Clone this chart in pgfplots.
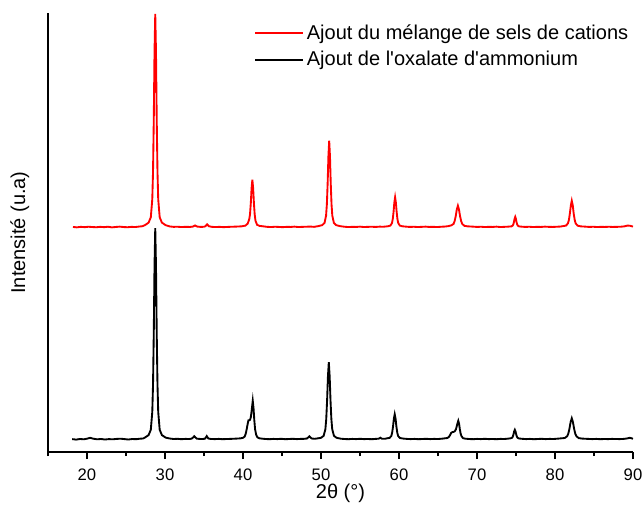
\documentclass[border=0pt]{standalone}
\usepackage{fontspec}
\setmainfont{Liberation Sans}
\usepackage{pgfplots}
\pgfplotsset{compat=1.18}
\usetikzlibrary{calc}
\begin{document}
\begin{tikzpicture}
\begin{axis}[
 name=ax,
 scale only axis,
 width=438.75pt, height=329.25pt,
 xmin=15, xmax=90, ymin=-12.7, ymax=426,
 axis lines*=left,
 axis line style={line width=1pt},
 ytick=\empty,
 xtick={20,30,...,90},
 minor xtick={15,25,...,85},
 tick align=outside,
 major tick length=5.25pt, minor tick length=3pt,
 tick style={line width=1pt, black},
 /pgf/number format/assume math mode=true,
 ticklabel style={font=\fontsize{12.5}{14}\selectfont},
 xticklabel style={inner sep=0pt, yshift=-7.4pt},
 xlabel={2θ (°)},
 ylabel={Intensité (u.a)},
 label style={font=\fontsize{15}{17}\selectfont},
 xlabel style={at={(axis description cs:0.5,-0.093)}, anchor=center, inner sep=0pt},
 ylabel style={at={(axis description cs:-0.048,0.5)}, anchor=center},
 legend style={draw=none, fill=none, at={(axis description cs:0.352,0.98)}, anchor=north west,
   font=\fontsize{15}{17}\selectfont, inner sep=0pt, row sep=3.5pt, nodes={inner sep=2pt}},
 legend cell align=left,
 legend image code/.code={\draw[#1, line width=1.5pt] (0pt,0pt) -- (36pt,0pt);},
]
\addplot[red, line width=1.4pt] coordinates {
(18.2,212.2) (18.7,211.8) (19.2,212.3) (19.7,212.0) (20.2,212.4) (20.7,212.1) (21.2,211.9) (21.7,212.3) (22.2,212.0) (22.7,212.4) (23.2,211.8) (23.7,212.2) (24.2,212.5) (24.7,212.1) (25.2,211.9) (25.7,212.3) (26.2,212.1) (26.7,212.6) (27.1,212.9)
(27.42,214.0) (27.895,216.5) (28.18,221.8) (28.37,239.9) (28.465,267.6) (28.56,318.7) (28.655,386.9) (28.75,425) (28.845,386.9) (28.94,318.7) (29.035,267.6) (29.13,239.9) (29.32,221.8) (29.605,216.5) (30.08,214.0)
(30.6,212.7) (31.1,212.3) (31.6,212.4) (32.1,212.1) (32.6,212.3) (33.2,212.2)
(33.6,212.6) (33.85,213.7) (34.1,212.6) (34.6,212.2) (35.0,212.4)
(35.2,213.0) (35.3,214.0) (35.4,214.8) (35.5,214.0) (35.6,213.0)
(36.0,212.3) (36.5,212.1) (37.0,212.3) (37.5,212.0) (38.0,212.2) (38.5,212.4) (39.0,212.5)
(39.8,212.8) (40.3,213.5) (40.6,215.5) (40.8,220.0) (40.9,225.0) (41.0,235.8) (41.1,250.8) (41.2,259.3) (41.3,250.8) (41.4,235.8) (41.5,224.5) (41.6,218.4) (41.8,214.4) (42.1,213.3) (42.6,212.8)
(43.1,212.3) (43.6,212.1) (44.1,212.4) (44.6,212.2) (45.1,212.0) (45.6,212.3) (46.1,212.2) (46.6,212.5) (47.1,212.1) (47.6,212.3) (48.1,212.4) (48.6,212.6) (49.1,212.3)
(49.65,213.0) (50.15,214.0) (50.45,216.2) (50.65,223.5) (50.75,234.7) (50.85,255.3) (50.95,282.8) (51.05,298.3) (51.15,282.8) (51.25,255.3) (51.35,234.7) (51.45,223.5) (51.65,216.2) (51.95,214.0) (52.45,213.0)
(53.0,212.4) (53.5,212.1) (54.0,212.3) (54.5,212.2) (55.0,212.5) (55.5,212.1) (56.0,212.3) (56.5,212.4) (57.0,212.2) (57.5,212.5) (58.0,212.4)
(58.6,212.9) (58.9,213.6) (59.1,216.1) (59.2,220.0) (59.3,227.1) (59.4,236.5) (59.5,241.8) (59.6,236.5) (59.7,227.1) (59.8,220.0) (59.9,216.1) (60.1,213.6) (60.4,212.9) (60.9,212.5)
(61.4,212.2) (61.9,212.4) (62.4,212.1) (62.9,212.3) (63.4,212.5) (63.9,212.2) (64.4,212.3) (64.9,212.1) (65.4,212.4) (65.9,212.6) (66.3,213.0)
(66.71,213.8) (66.99,215.2) (67.13,218.0) (67.27,222.9) (67.41,229.6) (67.55,233.4) (67.69,229.6) (67.83,222.9) (67.97,218.0) (68.11,215.2) (68.39,213.3) (68.81,212.8) (69.51,212.5)
(70.0,212.2) (70.5,212.4) (71.0,212.1) (71.5,212.3) (72.0,212.2) (72.5,212.5) (73.0,212.1) (73.5,212.3) (74.0,212.5)
(74.42,212.8) (74.58,213.6) (74.66,214.9) (74.74,217.3) (74.82,220.5) (74.9,222.3) (74.98,220.5) (75.06,217.3) (75.14,214.9) (75.22,213.6) (75.38,212.8) (75.7,212.5)
(76.2,212.2) (76.7,212.4) (77.2,212.1) (77.7,212.3) (78.2,212.2) (78.7,212.5) (79.2,212.3) (79.7,212.2) (80.2,212.4) (80.7,212.6) (81.0,213.0)
(81.4,213.5) (81.65,215.7) (81.78,219.1) (81.9,225.3) (82.03,233.6) (82.15,238.3) (82.28,233.6) (82.4,225.3) (82.53,219.1) (82.65,215.7) (82.9,213.5) (83.28,212.8) (83.9,212.5)
(84.4,212.2) (84.9,212.4) (85.4,212.1) (85.9,212.3) (86.4,212.2) (86.9,212.4) (87.4,212.2) (87.9,212.3) (88.4,212.4) (88.9,212.8) (89.3,213.6) (89.6,213.4) (90.0,212.6)
};
\addlegendentry{Ajout du mélange de sels de cations}
\addplot[black, line width=1.4pt] coordinates {
(18.1,0.2) (18.6,-0.3) (19.1,0.3) (19.6,0.0) (20.0,0.6) (20.4,1.5) (20.8,0.6) (21.3,0.0) (21.8,0.3) (22.3,-0.2) (22.8,0.2) (23.3,0.0) (23.8,0.4) (24.3,0.6) (24.8,0.2) (25.3,-0.2) (25.8,0.3) (26.3,0.1) (26.8,0.6) (27.2,0.8)
(27.42,1.7) (27.895,4.2) (28.18,9.5) (28.37,27.4) (28.465,54.9) (28.56,105.5) (28.655,173) (28.75,211) (28.845,173) (28.94,105.5) (29.035,54.9) (29.13,27.4) (29.32,9.5) (29.605,4.2) (30.08,1.7)
(30.6,0.8) (31.1,0.3) (31.6,0.5) (32.1,0.1) (32.6,0.4) (33.1,0.3)
(33.4,0.6) (33.6,1.8) (33.75,3) (33.9,1.8) (34.1,0.6) (34.6,0.3) (35.0,0.4)
(35.15,0.8) (35.25,2) (35.35,3.2) (35.45,2) (35.55,0.8)
(35.9,0.3) (36.4,0.2) (36.9,0.4) (37.4,0.1) (37.9,0.3) (38.4,0.4) (38.9,0.6) (39.4,0.8)
(39.7,1.0) (40.0,1.5) (40.2,2.6) (40.35,5.5) (40.5,11.2) (40.6,15.5) (40.7,19.0) (40.8,19.0) (40.9,19.5) (41.0,22.0) (41.1,28.0) (41.25,38.5) (41.35,31.0) (41.45,19.0) (41.55,10.0) (41.7,4.2) (41.85,2.0) (42.1,1.0) (42.5,0.6)
(42.9,0.3) (43.4,0.1) (43.9,0.4) (44.4,0.2) (44.9,0.5) (45.4,0.1) (45.9,0.3) (46.4,0.5) (46.9,0.2) (47.4,0.4) (47.9,0.5)
(48.2,0.8) (48.35,1.8) (48.5,3) (48.65,1.8) (48.8,0.8) (49.2,0.5)
(49.46,0.8) (50.01,1.5) (50.34,3.5) (50.56,10) (50.67,20) (50.78,38.5) (50.89,63) (51.0,77) (51.11,63) (51.22,38.5) (51.33,20) (51.44,10) (51.66,3.5) (51.99,1.5) (52.54,0.6)
(53.0,0.3) (53.5,0.1) (54.0,0.4) (54.5,0.2) (55.0,0.5) (55.5,0.2) (56.0,0.3) (56.5,0.1) (57.0,0.4)
(57.4,0.6) (57.6,1.6) (57.8,0.6) (58.2,0.5)
(58.46,1.0) (58.79,1.4) (59.01,3.3) (59.12,6.5) (59.23,12.5) (59.34,20.5) (59.45,25) (59.56,20.5) (59.67,12.5) (59.78,6.5) (59.89,3.3) (60.11,1.4) (60.44,0.8) (60.99,0.4)
(61.5,0.2) (62.0,0.4) (62.5,0.1) (63.0,0.3) (63.5,0.5) (64.0,0.2) (64.5,0.4) (65.0,0.3) (65.5,0.6) (65.9,1.0)
(66.2,1.3) (66.4,2.4) (66.55,4.2) (66.7,6.5) (66.85,7.2) (67.0,7.4) (67.15,8.0) (67.3,10.0) (67.4,13.0) (67.5,16.0) (67.6,18.5) (67.7,15.5) (67.8,10.0) (67.9,5.8) (68.0,3.3) (68.2,1.2) (68.5,0.6)
(69.0,0.3) (69.5,0.1) (70.0,0.4) (70.5,0.2) (71.0,0.5) (71.5,0.2) (72.0,0.3) (72.5,0.1) (73.0,0.4) (73.5,0.3) (73.9,0.6)
(74.31,1.0) (74.49,1.5) (74.58,2.5) (74.67,4.8) (74.76,7.8) (74.85,9.5) (74.94,7.8) (75.03,4.8) (75.12,2.5) (75.21,1.5) (75.39,0.8) (75.75,0.5)
(76.3,0.2) (76.8,0.4) (77.3,0.1) (77.8,0.3) (78.3,0.5) (78.8,0.2) (79.3,0.4) (79.8,0.3) (80.3,0.6) (80.7,0.9)
(81.25,1.3) (81.55,3.0) (81.7,5.5) (81.85,10.5) (82.0,17.2) (82.15,21) (82.3,17.2) (82.45,10.5) (82.6,5.5) (82.75,3.0) (83.05,1.2) (83.5,0.7) (84.25,0.4)
(84.8,0.2) (85.3,0.4) (85.8,0.1) (86.3,0.3) (86.8,0.2) (87.3,0.4) (87.8,0.3) (88.3,0.2) (88.8,0.4) (89.2,0.8) (89.6,1.5) (89.9,0.8) (90.0,0.5)
};
\addlegendentry{Ajout de l\textquotesingle oxalate d\textquotesingle ammonium}
\end{axis}
\pgfresetboundingbox
\path[use as bounding box] ($(ax.south west)+(-36pt,-39pt)$) rectangle ($(ax.north east)+(7.5pt,9.75pt)$);
\end{tikzpicture}
\end{document}
